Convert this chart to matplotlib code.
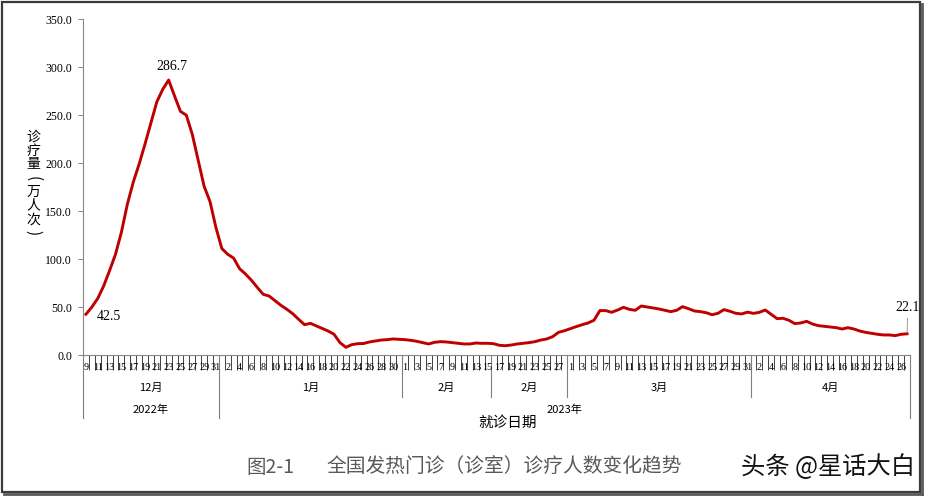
import matplotlib
matplotlib.use("Agg")
import matplotlib.pyplot as plt
import numpy as np
import pandas as pd
from matplotlib.transforms import blended_transform_factory
from matplotlib.lines import Line2D
from matplotlib.patches import Rectangle

# ---------------- data ----------------
dates = pd.date_range("2022-12-09", "2023-04-27", freq="D")
day_labels = [str(d.day) for d in dates]

values_dec = [42.5, 50, 59, 72, 88, 105, 128, 157, 180, 199, 220, 242, 264, 277,
              286.7, 270, 254, 250, 230, 203, 176, 160, 133]
values_jan = [111, 105, 101, 90, 84.5, 78, 70.5, 63.3, 61.5, 56.7, 51.8, 47.7, 43.1,
              37.2, 31.6, 33, 30.3, 27.5, 25, 21.6, 12.9, 8, 10.8, 11.8, 12, 13.6,
              14.6, 15.6, 16, 16.7, 16.3]
values_feb = [16, 15.3, 14.3, 12.9, 11.5, 13.2, 13.9, 13.6, 12.9, 12.2, 11.5, 11.5,
              12.5, 12.2, 12.2, 11.8, 10.1, 9.7, 10.4, 11.5, 12.2, 12.9, 13.9, 15.6,
              16.7, 19.1, 23.6, 25.3]
values_mar = [27.5, 29.6, 31.6, 33.4, 36.2, 46.3, 46.3, 44.5, 46.9, 49.7, 47.6, 46.6,
              51.1, 50.1, 49, 48, 46.6, 45.2, 46.6, 50.4, 48.3, 45.9, 45.2, 44.1, 42,
              43.5, 47.3, 45.6, 43.5, 42.8, 44.7]
values_apr = [43.4, 44.5, 46.9, 42.4, 37.9, 38.3, 36.2, 32.7, 33.4, 35.1, 32.3, 30.6,
              29.9, 29.2, 28.5, 27.1, 28.5, 27.1, 25, 23.6, 22.6, 21.6, 20.9, 20.9,
              20.2, 21.6, 22.1]
values = values_dec + values_jan + values_feb + values_mar + values_apr

month_groups = ["12月", "1月", "2月", "2月", "3月", "4月"]
month_sizes = [23, 31, 15, 13, 31, 27]
year_groups = ["2022年", "2023年"]
year_sizes = [23, 117]

yticks = [0, 50, 100, 150, 200, 250, 300, 350]
annotated = {0: "42.5", 14: "286.7", 139: "22.1"}

# ---------------- figure ----------------
W, H = 930, 498
fig = plt.figure(figsize=(W / 100, H / 100), dpi=100)
fig.patch.set_facecolor("white")
CJK = ["Noto Sans CJK SC", "DejaVu Sans"]
SERIF = ["Liberation Serif", "DejaVu Serif"]

def fy(py):
    return 1 - py / H

ax = fig.add_axes([83 / W, fy(355), (910 - 83) / W, (355 - 19.3) / H])
n = len(values)
x = np.arange(n)
ax.plot(x, values, color="#BE0000", lw=2.1, solid_joinstyle="round", zorder=3)

ax.set_xlim(-0.5, n - 0.5)
ax.set_ylim(0, 350)
ax.set_yticks(yticks)
ax.set_yticklabels([f"{v:.1f}" for v in yticks], fontfamily=SERIF, fontsize=8.5)
ax.tick_params(axis="y", direction="out", length=3.6, width=0.7, color="#808080", pad=4.3)
ax.set_xticks(np.arange(-0.5, n, 1.0))
ax.set_xticklabels([])
ax.tick_params(axis="x", direction="out", length=10.5, width=0.6, color="#202020")
for s in ["top", "right"]:
    ax.spines[s].set_visible(False)
ax.spines["left"].set_color("#868686")
ax.spines["bottom"].set_color("#868686")
ax.spines["left"].set_linewidth(0.8)
ax.spines["bottom"].set_linewidth(0.8)

trans = blended_transform_factory(ax.transData, fig.transFigure)

# day labels (every other day)
for i, lab in enumerate(day_labels):
    if i % 2 == 0:
        ax.text(i, fy(367), lab, transform=trans, ha="center", va="center",
                fontsize=7.3, fontfamily=SERIF, clip_on=False)

# month groups
start = -0.5
bounds = [start]
for name, size in zip(month_groups, month_sizes):
    end = start + size
    ax.text((start + end) / 2, fy(388), name, transform=trans, ha="center",
            va="center", fontsize=8, fontfamily=CJK)
    start = end
    bounds.append(end)
year_bounds = [-0.5]
start = -0.5
for name, size in zip(year_groups, year_sizes):
    end = start + size
    ax.text((start + end) / 2, fy(410), name, transform=trans, ha="center",
            va="center", fontsize=8, fontfamily=CJK)
    start = end
    year_bounds.append(end)
for b in bounds:
    bottom = 418 if b in year_bounds else 397
    ax.add_line(Line2D([b, b], [fy(355), fy(bottom)], transform=trans,
                       color="#7f7f7f", lw=0.8, clip_on=False))

# annotations
offsets = {0: (16.5, -1.5), 14: (2.5, 10), 139: (0.5, 19)}
for i, txt in annotated.items():
    if i == 139:
        ax.annotate(txt, xy=(i, values[i]), xytext=offsets[i], textcoords="offset points",
                    ha="center", va="center", fontsize=10, fontfamily=SERIF,
                    arrowprops=dict(arrowstyle="-", color="#8c8c8c", lw=0.6,
                                    shrinkA=1, shrinkB=1), annotation_clip=False)
    else:
        ax.annotate(txt, xy=(i, values[i]), xytext=offsets[i], textcoords="offset points",
                    ha="center", va="center", fontsize=10, fontfamily=SERIF)

# axis titles
fig.text(508 / W, fy(423), "就诊日期", ha="center", va="center", fontsize=10.5,
         fontfamily=CJK)
ylab_chars = ["诊", "疗", "量", "(", "万", "人", "次", ")"]
for k, ch in enumerate(ylab_chars):
    if ch in ("(", ")"):
        fig.text(33 / W, fy(137 + k * 13.7), ch, ha="center", va="center",
                 fontsize=11, fontfamily=CJK, rotation=-90)
    else:
        fig.text(33 / W, fy(137 + k * 13.7), ch, ha="center", va="center",
                 fontsize=10, fontfamily=CJK)

# caption & watermark
fig.text(270 / W, fy(467), "图2-1", ha="center", va="center", fontsize=14,
         fontfamily=CJK, color="#595959")
fig.text(504 / W, fy(467), "全国发热门诊（诊室）诊疗人数变化趋势", ha="center",
         va="center", fontsize=14.2, fontfamily=CJK, color="#595959")
fig.text(828 / W, fy(467), "头条 @星话大白", ha="center", va="center", fontsize=17.5,
         fontfamily=CJK, color="#111111")

# frame
fig.add_artist(Rectangle((2 / W, fy(492)), (920 - 2) / W, (492 - 2) / H,
                         transform=fig.transFigure, fill=False, edgecolor="#3c3c3c",
                         lw=1.6))
fig.add_artist(Line2D([922 / W, 922 / W], [fy(494), fy(4)], transform=fig.transFigure,
                      color="#5a5a5a", lw=2))
fig.add_artist(Line2D([4 / W, 922 / W], [fy(494), fy(494)], transform=fig.transFigure,
                      color="#5a5a5a", lw=2))

fig.savefig("out.png", dpi=100)
